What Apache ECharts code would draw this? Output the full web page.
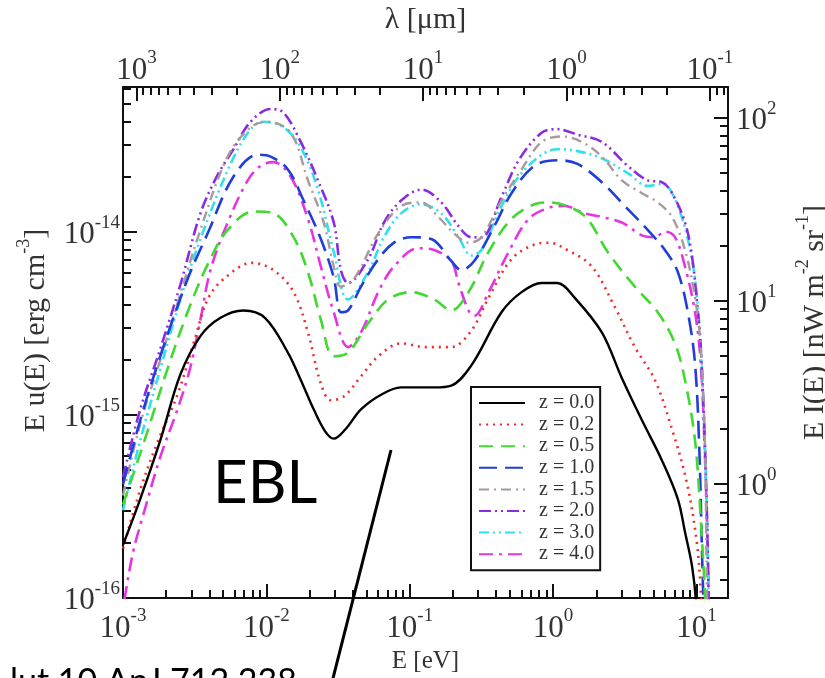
<!DOCTYPE html>
<html>
<head>
<meta charset="utf-8">
<script src="https://cdn.jsdelivr.net/npm/echarts@6/dist/echarts.min.js"></script>
<style>
  html, body { margin: 0; padding: 0; background: #fff; }
  #main { width: 825px; height: 678px; }
</style>
</head>
<body>
<div id="main"></div>
<script>
// EBL spectra: [log10 E (eV), log10 E u(E) (erg cm^-3)]
var z00 = [[-3.00,-15.71],[-2.88,-15.46],[-2.74,-15.14],[-2.60,-14.78],[-2.46,-14.57],[-2.32,-14.47],[-2.16,-14.43],[-2.01,-14.47],[-1.85,-14.66],[-1.76,-14.81],[-1.67,-14.97],[-1.59,-15.09],[-1.53,-15.13],[-1.45,-15.08],[-1.34,-14.97],[-1.20,-14.89],[-1.06,-14.85],[-0.83,-14.85],[-0.71,-14.84],[-0.57,-14.73],[-0.36,-14.44],[-0.22,-14.33],[-0.08,-14.28],[0.03,-14.28],[0.15,-14.36],[0.34,-14.55],[0.48,-14.80],[0.62,-15.03],[0.76,-15.25],[0.87,-15.46],[0.92,-15.64],[0.97,-15.83],[1.00,-16.05],[1.01,-16.3]];
var z02 = [[-3.00,-15.73],[-2.88,-15.41],[-2.76,-15.15],[-2.62,-14.89],[-2.50,-14.59],[-2.41,-14.37],[-2.30,-14.26],[-2.10,-14.17],[-1.95,-14.21],[-1.81,-14.33],[-1.71,-14.55],[-1.62,-14.83],[-1.55,-14.92],[-1.46,-14.90],[-1.34,-14.79],[-1.22,-14.68],[-1.06,-14.61],[-0.89,-14.63],[-0.71,-14.63],[-0.57,-14.54],[-0.45,-14.36],[-0.29,-14.15],[-0.13,-14.07],[-0.03,-14.06],[0.10,-14.10],[0.27,-14.19],[0.43,-14.41],[0.57,-14.63],[0.71,-14.81],[0.83,-15.08],[0.93,-15.36],[1.00,-15.68],[1.03,-15.96],[1.05,-16.3]];
var z05 = [[-3.00,-15.49],[-2.85,-15.14],[-2.69,-14.75],[-2.55,-14.44],[-2.41,-14.18],[-2.27,-13.99],[-2.09,-13.89],[-1.95,-13.90],[-1.81,-14.03],[-1.71,-14.22],[-1.62,-14.48],[-1.53,-14.68],[-1.43,-14.66],[-1.29,-14.50],[-1.15,-14.37],[-0.99,-14.33],[-0.83,-14.37],[-0.71,-14.43],[-0.59,-14.33],[-0.45,-14.11],[-0.29,-13.93],[-0.13,-13.85],[-0.03,-13.84],[0.13,-13.87],[0.24,-13.93],[0.38,-14.11],[0.57,-14.30],[0.73,-14.44],[0.85,-14.61],[0.92,-14.81],[0.99,-15.14],[1.03,-15.57],[1.06,-16.00],[1.07,-16.3]];
var z10 = [[-3.00,-15.38],[-2.88,-15.03],[-2.74,-14.68],[-2.55,-14.26],[-2.41,-14.01],[-2.23,-13.70],[-2.06,-13.58],[-1.97,-13.59],[-1.85,-13.66],[-1.74,-13.83],[-1.62,-14.04],[-1.53,-14.25],[-1.48,-14.44],[-1.43,-14.43],[-1.34,-14.30],[-1.22,-14.15],[-1.11,-14.06],[-0.99,-14.03],[-0.85,-14.04],[-0.71,-14.16],[-0.64,-14.21],[-0.55,-14.16],[-0.41,-13.97],[-0.29,-13.79],[-0.13,-13.64],[0.03,-13.61],[0.17,-13.63],[0.34,-13.73],[0.50,-13.86],[0.66,-13.99],[0.78,-14.10],[0.87,-14.22],[0.94,-14.44],[0.99,-14.72],[1.02,-15.19],[1.04,-15.79],[1.06,-16.3]];
var z15 = [[-3.00,-15.44],[-2.88,-15.05],[-2.74,-14.70],[-2.60,-14.34],[-2.46,-13.99],[-2.27,-13.59],[-2.11,-13.43],[-1.99,-13.40],[-1.83,-13.46],[-1.71,-13.72],[-1.60,-13.95],[-1.53,-14.19],[-1.48,-14.30],[-1.39,-14.26],[-1.22,-14.01],[-1.06,-13.86],[-0.92,-13.84],[-0.80,-13.92],[-0.69,-14.01],[-0.59,-14.06],[-0.50,-14.03],[-0.36,-13.83],[-0.22,-13.66],[-0.08,-13.51],[0.06,-13.48],[0.20,-13.51],[0.34,-13.59],[0.48,-13.72],[0.62,-13.79],[0.73,-13.84],[0.83,-13.92],[0.92,-14.10],[0.99,-14.36],[1.03,-14.63],[1.06,-15.19],[1.07,-15.79],[1.08,-16.3]];
var z20 = [[-3.00,-15.34],[-2.88,-14.97],[-2.74,-14.64],[-2.60,-14.29],[-2.46,-13.90],[-2.34,-13.69],[-2.23,-13.55],[-2.11,-13.40],[-1.97,-13.33],[-1.88,-13.35],[-1.76,-13.51],[-1.64,-13.72],[-1.53,-13.95],[-1.48,-14.21],[-1.43,-14.28],[-1.29,-14.15],[-1.18,-13.95],[-1.06,-13.83],[-0.92,-13.77],[-0.78,-13.84],[-0.66,-13.97],[-0.57,-14.03],[-0.50,-14.03],[-0.36,-13.81],[-0.24,-13.61],[-0.08,-13.46],[0.03,-13.44],[0.17,-13.47],[0.34,-13.51],[0.52,-13.64],[0.66,-13.72],[0.76,-13.73],[0.83,-13.79],[0.92,-13.95],[0.97,-14.14],[1.01,-14.44],[1.03,-14.63],[1.06,-15.19],[1.08,-15.79],[1.09,-16.3]];
var z30 = [[-3.00,-15.52],[-2.88,-15.14],[-2.74,-14.75],[-2.60,-14.37],[-2.46,-14.04],[-2.25,-13.63],[-2.11,-13.44],[-2.02,-13.40],[-1.88,-13.43],[-1.76,-13.54],[-1.64,-13.77],[-1.53,-14.11],[-1.43,-14.37],[-1.29,-14.22],[-1.18,-14.03],[-1.06,-13.90],[-0.92,-13.85],[-0.78,-13.90],[-0.66,-14.03],[-0.57,-14.13],[-0.50,-14.10],[-0.36,-13.86],[-0.24,-13.70],[-0.08,-13.58],[0.03,-13.55],[0.17,-13.56],[0.34,-13.60],[0.52,-13.68],[0.66,-13.75],[0.76,-13.74],[0.80,-13.75],[0.87,-13.86],[0.94,-14.04],[0.99,-14.26],[1.03,-14.63],[1.06,-15.19],[1.08,-15.79],[1.09,-16.3]];
var z40 = [[-2.99,-16.01],[-2.93,-15.75],[-2.86,-15.55],[-2.74,-15.23],[-2.62,-14.97],[-2.53,-14.74],[-2.46,-14.48],[-2.39,-14.21],[-2.27,-13.95],[-2.13,-13.72],[-2.04,-13.64],[-1.95,-13.62],[-1.83,-13.70],[-1.71,-13.93],[-1.62,-14.19],[-1.53,-14.44],[-1.43,-14.63],[-1.34,-14.55],[-1.22,-14.33],[-1.11,-14.19],[-0.94,-14.09],[-0.83,-14.10],[-0.71,-14.16],[-0.66,-14.28],[-0.59,-14.43],[-0.55,-14.46],[-0.45,-14.33],[-0.31,-14.11],[-0.17,-13.93],[-0.03,-13.87],[0.08,-13.86],[0.22,-13.90],[0.34,-13.92],[0.48,-13.95],[0.62,-14.02],[0.71,-14.03],[0.78,-14.00],[0.85,-14.03],[0.92,-14.19],[0.99,-14.44],[1.03,-14.72],[1.06,-15.25],[1.08,-15.79],[1.09,-16.3]];

var zNames = ['z = 0.0', 'z = 0.2', 'z = 0.5', 'z = 1.0', 'z = 1.5', 'z = 2.0', 'z = 3.0', 'z = 4.0'];
var zData = [z00, z02, z05, z10, z15, z20, z30, z40];

// axis ranges (log10)
var xMin = -3, xMax = 1.22;
var yMin = -16, yMax = -13.21;
var eDecades = [-3, -2, -1, 0, 1];
var uDecades = [-16, -15, -14];
var lamDecades = [-1, 0, 1, 2, 3];
var iDecades = [0, 1, 2];

var LOG_HC = Math.log10(1.23984);        // lambda[um] = 1.23984 / E[eV]
var LOG_C4PI = Math.log10(2.3857e15);     // E I(E) [nW m^-2 sr^-1] = c/4pi * E u(E)

var styles = [
  { color: '#000000', width: 2.4, type: 'solid' },
  { color: '#ee2a2a', width: 2.6, type: [2, 5] },
  { color: '#3fd92f', width: 2.6, type: [14, 8] },
  { color: '#1f3fd8', width: 2.6, type: [18, 8] },
  { color: '#a89a9c', width: 2.4, type: [10, 5, 2, 5] },
  { color: '#8a2be2', width: 2.6, type: [12, 4, 2, 4, 2, 4] },
  { color: '#2fe0ee', width: 2.6, type: [10, 4, 2, 4, 2, 4] },
  { color: '#e535e0', width: 2.6, type: [14, 6, 3, 6] }
];

var serif = 'Liberation Serif';
var ink = '#333';

function minorTicks(lo, hi) {
  var out = [];
  for (var n = Math.floor(lo); n <= Math.ceil(hi); n++) {
    for (var k = 2; k <= 9; k++) {
      var v = n + Math.log10(k);
      if (v > lo && v < hi) out.push(v);
    }
  }
  return out;
}

function pow10(v) {
  return '{b|10}{s|' + Math.round(v) + '}';
}

var labelRich = {
  b: { fontFamily: serif, fontSize: 31, color: ink, verticalAlign: 'bottom', padding: [6, 0, 0, 0] },
  s: { fontFamily: serif, fontSize: 19, color: ink, verticalAlign: 'top' }
};
var nameRich = {
  n: { fontFamily: serif, fontSize: 30, color: ink, verticalAlign: 'bottom', padding: [6, 0, 0, 0] },
  s: { fontFamily: serif, fontSize: 18, color: ink, verticalAlign: 'top' }
};

function majorAxis(pos, lo, hi, decades, extra) {
  var ax = {
    type: 'value', position: pos, min: lo, max: hi,
    axisLine: { show: true, onZero: false, lineStyle: { color: '#111', width: 2 } },
    axisTick: { show: true, inside: true, length: 14, customValues: decades, lineStyle: { color: '#111', width: 2 } },
    axisLabel: { show: true, customValues: decades, formatter: pow10, rich: labelRich, margin: 6 },
    splitLine: { show: false }
  };
  for (var key in extra) ax[key] = extra[key];
  return ax;
}

function minorAxis(pos, lo, hi, extra) {
  var ax = {
    type: 'value', position: pos, min: lo, max: hi,
    axisLine: { show: false, onZero: false },
    axisTick: { show: true, inside: true, length: 8, customValues: minorTicks(lo, hi), lineStyle: { color: '#111', width: 2 } },
    axisLabel: { show: false },
    splitLine: { show: false }
  };
  for (var key in extra) ax[key] = extra[key];
  return ax;
}

var lamMin = LOG_HC - xMax, lamMax = LOG_HC - xMin;
var iMin = yMin + LOG_C4PI, iMax = yMax + LOG_C4PI;

var xAxes = [
  majorAxis('bottom', xMin, xMax, eDecades, {
    name: 'E [eV]', nameLocation: 'middle', nameGap: 42,
    nameTextStyle: { fontFamily: serif, fontSize: 25, color: ink },
    axisLabel: { customValues: eDecades, formatter: pow10, rich: labelRich, margin: 9 }
  }),
  minorAxis('bottom', xMin, xMax, {}),
  majorAxis('top', lamMin, lamMax, lamDecades, {
    inverse: true,
    name: 'λ [μm]', nameLocation: 'middle', nameGap: 52,
    nameTextStyle: { fontFamily: serif, fontSize: 30, color: ink },
    axisLabel: { customValues: lamDecades, formatter: pow10, rich: labelRich, margin: 1 }
  }),
  minorAxis('top', lamMin, lamMax, { inverse: true })
];

var yAxes = [
  majorAxis('left', yMin, yMax, uDecades, {
    name: '{n|E u(E) [erg cm}{s|-3}{n|]}', nameLocation: 'middle', nameGap: 72,
    nameTextStyle: { rich: nameRich, padding: [0, 0, 0, 24] },
    axisLabel: { customValues: uDecades, formatter: pow10, rich: labelRich, margin: 3 }
  }),
  minorAxis('left', yMin, yMax, {}),
  majorAxis('right', iMin, iMax, iDecades, {
    name: '{n|E I(E) [nW m}{s|-2}{n| sr}{s|-1}{n|]}', nameLocation: 'middle', nameGap: 66, nameRotate: 90,
    nameTextStyle: { rich: nameRich, padding: [0, 0, 0, 40] },
    axisLabel: { customValues: iDecades, formatter: pow10, rich: labelRich, margin: 8 }
  }),
  minorAxis('right', iMin, iMax, {})
];

var series = zData.map(function (d, i) {
  return {
    name: zNames[i], type: 'line', xAxisIndex: 0, yAxisIndex: 0,
    data: d, smooth: 0.35, symbol: 'none', clip: true,
    itemStyle: { color: styles[i].color },
    lineStyle: styles[i], z: 10 - i
  };
});

var chart = echarts.init(document.getElementById('main'));
chart.setOption({
  backgroundColor: '#fff',
  animation: false,
  grid: { left: 123, top: 87, width: 605, height: 511, show: false, containLabel: false, outerBoundsMode: 'none' },
  xAxis: xAxes,
  yAxis: yAxes,
  legend: {
    data: zNames, orient: 'vertical', left: 471, top: 387,
    backgroundColor: '#fff', borderColor: '#111', borderWidth: 2,
    padding: [6, 6, 6, 7], itemWidth: 46, itemHeight: 2, itemGap: 1.6,
    itemStyle: { opacity: 0 },
    textStyle: { fontFamily: serif, fontSize: 20, lineHeight: 20, color: ink, padding: [0, 0, 0, 9] }
  },
  series: series,
  graphic: [
    { type: 'text', left: 213, top: 454, z: 50, style: { text: 'EBL', font: '60px Lato', fill: '#000' } },
    { type: 'line', z: 50, shape: { x1: 391, y1: 450, x2: 330, y2: 690 }, style: { stroke: '#000', lineWidth: 3 } },
    { type: 'text', left: 10, top: 665, z: 50, style: { text: 'lut 10 ApJ 712 238', font: '34px Lato', fill: '#000' } }
  ]
});
</script>
</body>
</html>
